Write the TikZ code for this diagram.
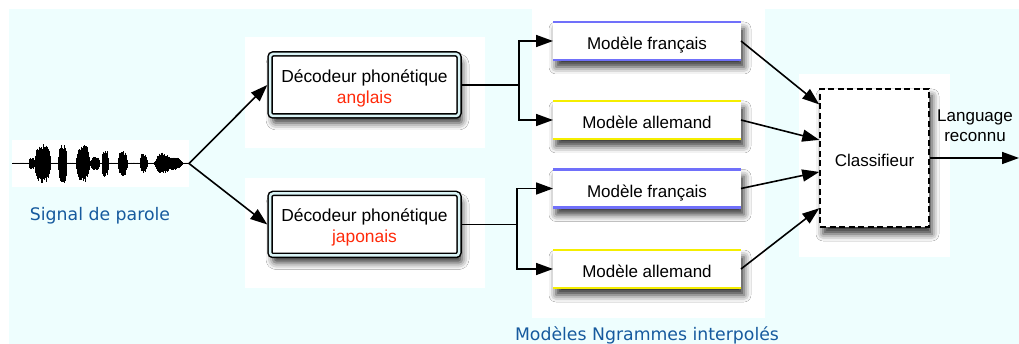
\documentclass[tikz,border=0pt]{standalone}
\usepackage{fontspec}
\setmainfont{Liberation Sans}
\newfontfamily\vfont{DejaVu Sans}
\usetikzlibrary{shadows.blur,arrows.meta,calc}
\definecolor{bgcyan}{RGB}{238,254,254}
\definecolor{gapcyan}{RGB}{218,244,246}
\definecolor{lblue}{RGB}{22,90,158}
\definecolor{redtxt}{RGB}{255,42,10}
\definecolor{mblue}{RGB}{112,112,250}
\definecolor{myellow}{RGB}{245,238,0}
\tikzset{
  declare function={bflat(\pt,\pc,\pw)=1-min(1,abs((\pt-\pc)/\pw))^4; bround(\pt,\pc,\pw)=1-min(1,abs((\pt-\pc)/\pw))^2;},
  panel/.style={fill=white, draw=none, inner sep=0pt, outer sep=0pt},
  softshadow/.style={blur shadow={shadow xshift=3pt, shadow yshift=-7pt, shadow blur radius=7pt, shadow opacity=80}},
  decoder/.style={draw=black, line width=1.5pt, double=gapcyan, double distance=2.5pt, rounded corners=3pt, fill=white,
    minimum width=189pt, minimum height=62pt, inner sep=0pt, outer sep=2.7pt, align=center,
    font=\fontsize{17.4}{21}\selectfont, softshadow},
  model/.style={fill=white, minimum width=188pt, minimum height=38pt, inner sep=0pt, outer sep=0pt,
    text height=19.5pt, text depth=2pt, font=\fontsize{17}{20}\selectfont, softshadow},
  classbox/.style={draw=black, dash pattern=on 6pt off 3.5pt, line width=1.5pt, fill=white,
    minimum width=109pt, minimum height=138pt, inner sep=0pt, outer sep=0.75pt,
    text height=17pt, text depth=0pt, font=\fontsize{17}{20}\selectfont, softshadow},
  conn/.style={line width=1.6pt, -{Triangle[length=17pt,width=12pt]}},
  plainline/.style={line width=1.6pt},
  bluelabel/.style={text=lblue, font=\vfont\fontsize{17.3}{20}\selectfont},
  outlabel/.style={align=center, font=\fontsize{17}{20}\selectfont},
  topline/.style={line width=2.2pt},
}
\begin{document}
\begin{tikzpicture}[x=1pt,y=-1pt]
\useasboundingbox (0,0) rectangle (1019,344);
\fill[white] (0,0) rectangle (1019,344);
\fill[bgcyan] (9,9) rectangle (1019,344);
% white panels
\fill[white] (245,37) rectangle (485,148);
\fill[white] (245,178) rectangle (485,288);
\fill[white] (532,8) rectangle (765,318);
\fill[white] (799,74) rectangle (950,257);
\node[panel, minimum width=177pt, minimum height=47pt] (wave) at (100.5,163.5) {};
% waveform
\pgfmathsetseed{7}
\draw[line width=0.9pt] (12,163.5) -- (189,163.5);
\foreach \x in {13,13.5,...,188.5}{
  \pgfmathsetmacro\env{0.8+5*bflat(\x,31.5,3)+19*bflat(\x,42.5,8.5)+19*bflat(\x,62.5,4.5)+18*bflat(\x,83,7)+6*bflat(\x,95,5)+13*bflat(\x,105,3.5)+12*bflat(\x,122.5,5)+9*bflat(\x,143.5,4)+10*bround(\x,162,8)+6*bround(\x,174,9)}
  \pgfmathsetmacro\up{\env*(0.65+0.35*rnd)}
  \pgfmathsetmacro\dn{\env*(0.65+0.35*rnd)}
  \draw[line width=0.9pt] (\x,163.5-\up) -- (\x,163.5+\dn);
}
\node[bluelabel] (siglab) at (100,216) {Signal de parole};
% decoders
\node[decoder] (dec1) at (364.5,85) {\rule{0pt}{19.5pt}Décodeur phonétique\\{\color{redtxt}anglais}};
\node[decoder] (dec2) at (364.5,224.5) {\rule{0pt}{19.5pt}Décodeur phonétique\\{\color{redtxt}japonais}};
% models
\node[model] (m1) at (647,41) {Modèle français};
\node[model] (m2) at (647,120) {Modèle allemand};
\node[model] (m3) at (647,188.5) {Modèle français};
\node[model] (m4) at (647,269) {Modèle allemand};
\foreach \m/\cl in {m1/mblue,m2/myellow,m3/mblue,m4/myellow}{
  \draw[topline, \cl] (\m.north west) -- (\m.north east);
  \draw[topline, \cl] (\m.south west) -- (\m.south east);
}
\node[bluelabel] (ngram) at (647,335) {Modèles Ngrammes interpolés};
% classifier
\node[classbox] (cl) at (874.5,158) {Classifieur};
\node[outlabel] (lang) at (975,126) {Language\\reconnu};
\coordinate (out) at (1019,158);
% connectors
\draw[conn] (wave.east) -- (dec1.west);
\draw[conn] (wave.east) -- (dec2.west);
\coordinate (b1) at (519,85);
\coordinate (b2) at (517,224.5);
\draw[plainline] (dec1.east) -- (b1);
\draw[plainline] (dec2.east) -- (b2);
\draw[conn] (b1) |- (m1.west);
\draw[conn] (b1) |- (m2.west);
\draw[conn] (b2) |- (m3.west);
\draw[conn] (b2) |- (m4.west);
\draw[conn] (m1.east) -- ($(cl.north west)!0.116!(cl.south west)$);
\draw[conn] (m2.east) -- ($(cl.north west)!0.37!(cl.south west)$);
\draw[conn] (m3.east) -- ($(cl.north west)!0.60!(cl.south west)$);
\draw[conn] (m4.east) -- ($(cl.north west)!0.86!(cl.south west)$);
\draw[conn] (cl.east) -- (out);
\end{tikzpicture}
\end{document}
